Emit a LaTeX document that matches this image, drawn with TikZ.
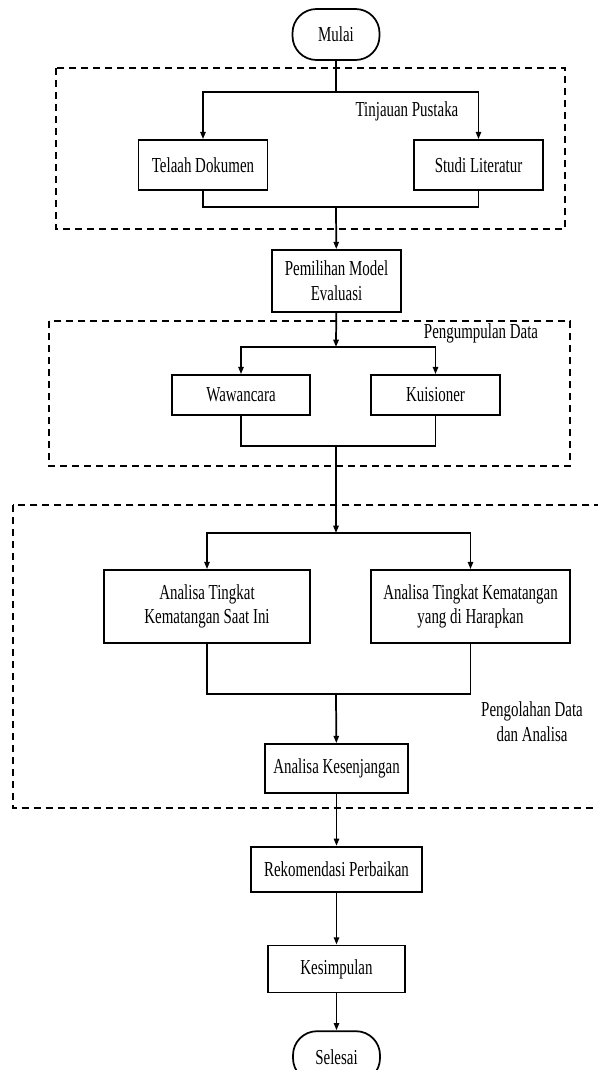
\documentclass[tikz,border=0pt]{standalone}
\usepackage{fontspec}
\setmainfont{Liberation Serif}[FakeStretch=0.7]
\usepackage{xcolor}
\usepackage{tikz}
\usetikzlibrary{arrows.meta,positioning}

\begin{document}
\begin{tikzpicture}[
    x=0.75pt, y=-0.75pt,
    font=\fontsize{16}{18.5}\selectfont,
    box/.style={draw, line width=1.3pt, fill=white, inner sep=2pt, align=center},
    terminal/.style={box, rounded corners=18pt, minimum width=65.25pt, minimum height=38.25pt},
    arrow/.style={-{Triangle[length=5.5pt, width=4pt]}, line width=1.3pt},
    line/.style={line width=1.3pt},
    frame/.style={line width=1.5pt, dash pattern=on 5.5pt off 3.5pt},
    note/.style={align=center}
  ]
    \useasboundingbox (0,0) rectangle (598,1070);
    \clip (0,0) rectangle (598,1070);
    \draw[frame] (56,68) rectangle (565,229);
    \draw[frame] (49,321) rectangle (570,466);
    \draw[frame] (12.6,505) rectangle (640,808);
    \node[terminal] (mulai) at (336,34.5) {Mulai};
    \node[box, minimum width=96.75pt, minimum height=37.5pt] (telaah) at (203,165) {Telaah Dokumen};
    \node[box, minimum width=96.75pt, minimum height=37.5pt] (studi) at (478.5,165) {Studi Literatur};
    \node[note] (tinjauan) at (407,111) {Tinjauan Pustaka};
    \node[box, minimum width=96.75pt, minimum height=46.5pt] (pemilihan) at (336.5,281) {Pemilihan Model\\Evaluasi};
    \node[note] (pengumpulan) at (481,333) {Pengumpulan Data};
    \node[box, minimum width=103.5pt, minimum height=30pt] (wawancara) at (241,395) {Wawancara};
    \node[box, minimum width=96.75pt, minimum height=30pt] (kuisioner) at (435.5,395) {Kuisioner};
    \node[box, minimum width=154.5pt, minimum height=54.75pt] (kini) at (207,606.5) {Analisa Tingkat\\Kematangan Saat Ini};
    \node[box, minimum width=149.25pt, minimum height=54.75pt] (harapan) at (470.5,606.5) {Analisa Tingkat Kematangan\\yang di Harapkan};
    \node[note] (pengolahan) at (532,722) {Pengolahan Data\\dan Analisa};
    \node[box, minimum width=107.25pt, minimum height=36.75pt] (gap) at (336.5,768.5) {Analisa Kesenjangan};
    \node[box, minimum width=128.25pt, minimum height=33.75pt, below=39pt of gap] (rekomendasi) {Rekomendasi Perbaikan};
    \node[box, minimum width=102.75pt, minimum height=35.25pt, below=39pt of rekomendasi] (kesimpulan) {Kesimpulan};
    \node[terminal, below=27.75pt of kesimpulan] (selesai) {Selesai};
    \coordinate (split1) at (336,92);
    \coordinate (merge1) at (336,207);
    \coordinate (split2) at (336,347);
    \coordinate (merge2) at (336,446);
    \coordinate (split3) at (336,533);
    \coordinate (merge3) at (336,694);
    \draw[line] (mulai) -- (split1);
    \draw[arrow] (split1) -| (telaah);
    \draw[arrow] (split1) -| (studi);
    \draw[line] (telaah) |- (merge1);
    \draw[line] (studi) |- (merge1);
    \draw[arrow] (merge1) -- (pemilihan);
    \draw[arrow] (pemilihan) -- (split2);
    \draw[arrow] (split2) -| (wawancara);
    \draw[arrow] (split2) -| (kuisioner);
    \draw[line] (wawancara) |- (merge2);
    \draw[line] (kuisioner) |- (merge2);
    \draw[arrow] (merge2) -- (split3);
    \draw[arrow] (split3) -| (kini);
    \draw[arrow] (split3) -| (harapan);
    \draw[line] (kini) |- (merge3);
    \draw[line] (harapan) |- (merge3);
    \draw[arrow] (merge3) -- (gap);
    \draw[arrow] (gap) -- (rekomendasi);
    \draw[arrow] (rekomendasi) -- (kesimpulan);
    \draw[arrow] (kesimpulan) -- (selesai);
  \end{tikzpicture}
\end{document}
